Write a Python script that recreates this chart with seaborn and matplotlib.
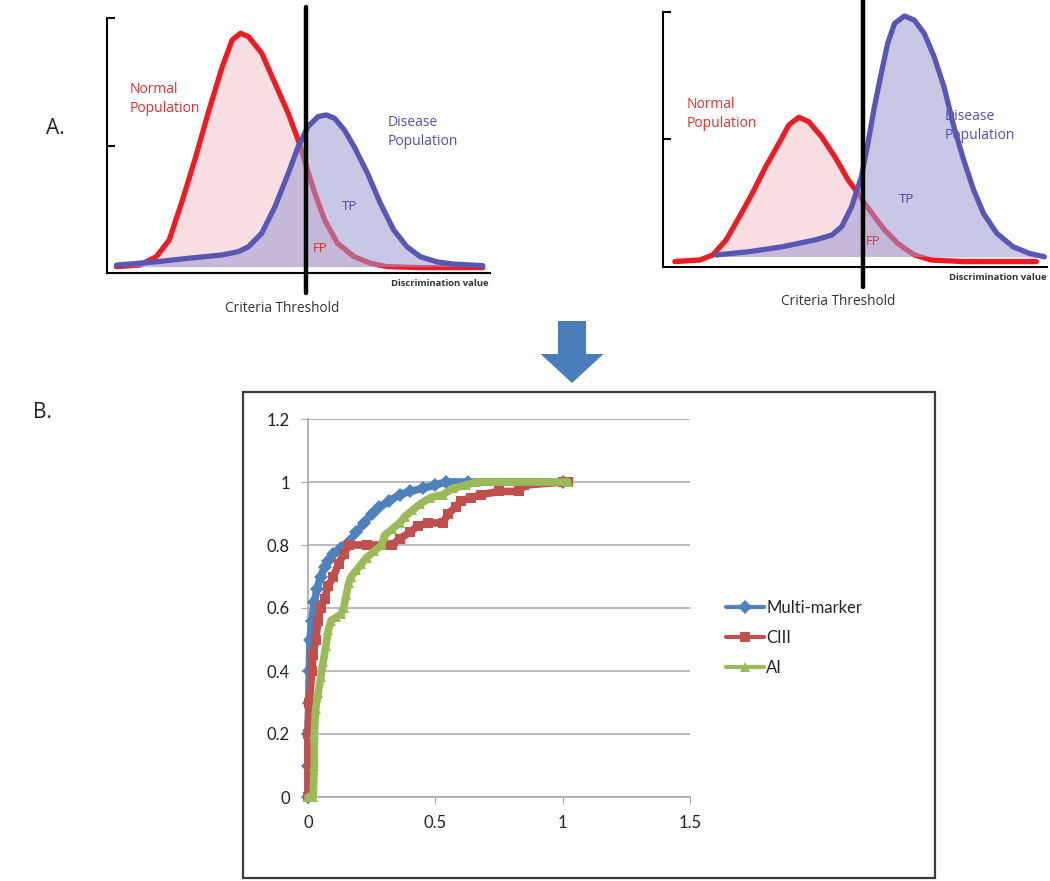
import matplotlib
matplotlib.use("Agg")
import matplotlib.pyplot as plt
import matplotlib.patches as mpatches
import seaborn as sns
import pandas as pd

# ---- panel A, left: curve shapes (x 0-100, y 0-100)
left_normal_x = [2.5, 8.6, 13.0, 16.4, 19.9, 23.4, 26.9, 30.4, 33.0, 35.2, 37.3, 40.8, 44.3,
                 47.8, 50.4, 52.6, 54.8, 57.4, 60.8, 65.2, 69.5, 73.9, 82.6, 99.1]
left_normal_y = [2.5, 3.1, 6.4, 12.9, 28.6, 45.6, 63.9, 80.9, 91.4, 94.0, 92.7, 86.2, 74.4,
                 62.6, 52.2, 41.7, 31.3, 20.8, 11.6, 6.4, 3.8, 2.5, 2.1, 2.1]
left_disease_x = [2.5, 13.0, 21.7, 30.4, 34.7, 37.3, 40.8, 44.3, 47.8, 50.4, 53.0, 55.6, 57.8,
                  60.0, 62.6, 65.2, 68.7, 72.1, 75.6, 79.1, 82.6, 86.9, 91.3, 99.1]
left_disease_y = [3.1, 4.4, 5.8, 7.1, 8.4, 10.3, 15.6, 26.0, 39.1, 49.5, 57.4, 61.3, 62.0,
                  60.7, 56.1, 49.5, 39.1, 27.3, 16.9, 10.3, 6.4, 4.4, 3.5, 2.9]

# ---- panel A, right
right_normal_x = [3.1, 9.6, 13.1, 16.6, 20.1, 23.5, 27.0, 30.5, 33.1, 35.7, 38.3, 41.7, 45.2,
                  48.7, 51.3, 53.0, 55.6, 58.3, 61.7, 66.1, 70.5, 79.1, 98.2]
right_normal_y = [2.0, 2.6, 4.6, 10.5, 19.6, 28.8, 39.2, 48.4, 55.6, 58.6, 56.9, 51.0, 43.1,
                  34.0, 28.8, 24.9, 19.6, 14.4, 9.2, 4.6, 2.6, 2.0, 2.0]
right_disease_x = [14.0, 22.7, 31.3, 40.0, 44.4, 47.0, 49.6, 52.2, 53.9, 55.6, 57.4, 59.1, 60.9,
                   63.5, 66.1, 68.7, 71.3, 73.9, 76.5, 79.1, 81.7, 84.3, 87.8, 92.1, 96.4, 100.3]
right_disease_y = [4.6, 5.9, 7.8, 10.5, 12.4, 15.7, 23.5, 35.3, 48.4, 62.7, 75.8, 87.6, 95.4,
                   98.3, 96.7, 91.5, 82.4, 70.6, 54.9, 41.8, 30.1, 20.9, 13.1, 7.8, 5.2, 3.9]

threshold_left = 52.5
threshold_right = 52.6

# ---- panel B: ROC curves (false positive rate, true positive rate)
multi_fpr = [0, 0, 0, 0.003, 0.005, 0.008, 0.015, 0.025, 0.035, 0.05, 0.065, 0.08, 0.1, 0.13,
             0.16, 0.19, 0.22, 0.25, 0.28, 0.32, 0.36, 0.4, 0.45, 0.5, 0.54, 0.63, 1.0]
multi_tpr = [0, 0.1, 0.2, 0.3, 0.4, 0.5, 0.56, 0.62, 0.66, 0.7, 0.73, 0.75, 0.77, 0.79,
             0.81, 0.84, 0.87, 0.9, 0.92, 0.94, 0.96, 0.97, 0.98, 0.99, 1.0, 1.0, 1.0]
ciii_fpr = [0, 0, 0.005, 0.015, 0.02, 0.03, 0.04, 0.05, 0.065, 0.08, 0.1, 0.12, 0.14, 0.16,
            0.23, 0.31, 0.33, 0.36, 0.4, 0.43, 0.47, 0.53, 0.55, 0.58, 0.6, 0.64, 0.68, 0.75,
            0.83, 0.85, 1.0, 1.02]
ciii_tpr = [0, 0.2, 0.3, 0.4, 0.45, 0.5, 0.56, 0.6, 0.63, 0.67, 0.7, 0.74, 0.77, 0.8,
            0.8, 0.8, 0.8, 0.82, 0.84, 0.86, 0.87, 0.87, 0.9, 0.92, 0.94, 0.95, 0.96, 0.97,
            0.97, 0.99, 1.0, 1.0]
ai_fpr = [0, 0.02, 0.025, 0.025, 0.03, 0.04, 0.05, 0.06, 0.07, 0.08, 0.09, 0.11, 0.13, 0.14,
          0.15, 0.16, 0.17, 0.19, 0.21, 0.23, 0.26, 0.29, 0.3, 0.33, 0.36, 0.38, 0.41, 0.44,
          0.48, 0.53, 0.57, 0.62, 0.66, 1.02]
ai_tpr = [0, 0, 0.1, 0.2, 0.28, 0.33, 0.38, 0.43, 0.48, 0.53, 0.56, 0.57, 0.58, 0.6,
          0.64, 0.68, 0.7, 0.72, 0.74, 0.76, 0.78, 0.8, 0.83, 0.85, 0.87, 0.89, 0.91, 0.93,
          0.95, 0.96, 0.98, 0.99, 1.0, 1.0]

series_names = ["Multi-marker", "CIII", "AI"]
y_ticks = [0, 0.2, 0.4, 0.6, 0.8, 1, 1.2]
y_ticklabels = ["0", "0.2", "0.4", "0.6", "0.8", "1", "1.2"]
x_ticks = [0, 0.5, 1, 1.5]
x_ticklabels = ["0", "0.5", "1", "1.5"]

sns.set_style("white")
plt.rcParams['font.family'] = ['Open Sans', 'DejaVu Sans']

RED = "#ec1c24"
BLUE = "#5858b4"
PINK_FILL = "#f8dde3"
LAV_FILL = "#9c9ad2"

fig = plt.figure(figsize=(10.5, 8.81), dpi=100)


def density_panel(rect, nx, ny, dx, dy, thr, thr_top, thr_bot, base, txt):
    ax = fig.add_axes(rect)
    ax.fill_between(nx, ny, base, color=PINK_FILL, lw=0, zorder=1)
    sns.lineplot(x=nx, y=ny, sort=False, color=RED, lw=3.8, ax=ax, zorder=2,
                 solid_joinstyle="round", solid_capstyle="round")
    ax.fill_between(dx, dy, base, color=LAV_FILL, alpha=0.55, lw=0, zorder=3)
    sns.lineplot(x=dx, y=dy, sort=False, color=BLUE, lw=3.8, ax=ax, zorder=4,
                 solid_joinstyle="round", solid_capstyle="round")
    ax.plot([thr, thr], [thr_bot, thr_top], color="black", lw=3.2, clip_on=False, zorder=5)
    ax.set_xlim(0, 101)
    ax.set_ylim(0, 100)
    for s in ["top", "right"]:
        ax.spines[s].set_visible(False)
    for s in ["left", "bottom"]:
        ax.spines[s].set_color("black")
        ax.spines[s].set_linewidth(1.5)
    ax.set_xticks([])
    ax.set_yticks([50, 100])
    ax.set_yticklabels([])
    ax.tick_params(axis="y", direction="in", length=6, width=1.5, left=True, color="black")
    ax.set_xlabel("")
    ax.set_ylabel("")
    ax.text(txt["normal"][0], txt["normal"][1], "Normal\nPopulation", color="#e03030",
            fontsize=10, va="center", ha="left", linespacing=1.3)
    ax.text(txt["disease"][0], txt["disease"][1], "Disease\nPopulation", color="#5050a8",
            fontsize=10, va="center", ha="left", linespacing=1.3)
    ax.text(txt["tp"][0], txt["tp"][1], "TP", color="#4848a0", fontsize=9.5,
            ha="center", va="center")
    ax.text(txt["fp"][0], txt["fp"][1], "FP", color="#e03030", fontsize=9.5,
            ha="center", va="center")
    ax.text(txt["disc"][0], txt["disc"][1], "Discrimination value", color="#333333",
            fontsize=6.8, fontweight="bold", ha="right", va="center", clip_on=False)
    ax.text(txt["crit"][0], txt["crit"][1], "Criteria Threshold", color="#333333",
            fontsize=9.8, ha="center", va="center", clip_on=False)
    return ax


density_panel([107 / 1050, 1 - 273 / 881, 383 / 1050, 255 / 881],
              left_normal_x, left_normal_y, left_disease_x, left_disease_y,
              threshold_left, 104.3, -7.8, 2.5,
              {"normal": (6.0, 68.2), "disease": (73.9, 55.3), "tp": (64.0, 25.9),
               "fp": (56.1, 9.8), "disc": (100.5, -4.2), "crit": (46.2, -14.1)})

density_panel([663 / 1050, 1 - 266.7 / 881, 384 / 1050, 255 / 881],
              right_normal_x, right_normal_y, right_disease_x, right_disease_y,
              threshold_right, 104.6, -8.0, 4.0,
              {"normal": (6.25, 59.9), "disease": (74.2, 55.2), "tp": (64.1, 26.2),
               "fp": (55.2, 9.7), "disc": (100.8, -4.4), "crit": (46.1, -13.8)})

# panel letters
fig.text(55 / 1050, 1 - 128 / 881, "A.", fontsize=15, ha="center", va="center", color="#222222")
fig.text(42 / 1050, 1 - 412 / 881, "B.", fontsize=15, ha="center", va="center", color="#222222")

# down arrow
arrow = mpatches.FancyArrow(572 / 1050, 1 - 321 / 881, 0, -(383 - 321) / 881,
                            width=28 / 1050, head_width=63 / 1050, head_length=29 / 881,
                            length_includes_head=True, color="#4a7ebb", lw=0,
                            transform=fig.transFigure)
fig.add_artist(arrow)

# chart box for panel B
box = mpatches.Rectangle((243 / 1050, 1 - 878 / 881), 692 / 1050, 486 / 881,
                         transform=fig.transFigure, fill=False, edgecolor="#3a3a3a", lw=1.6)
fig.add_artist(box)

# ROC chart
roc = pd.concat([
    pd.DataFrame({"fpr": multi_fpr, "tpr": multi_tpr, "series": series_names[0]}),
    pd.DataFrame({"fpr": ciii_fpr, "tpr": ciii_tpr, "series": series_names[1]}),
    pd.DataFrame({"fpr": ai_fpr, "tpr": ai_tpr, "series": series_names[2]}),
], ignore_index=True)

colors = {"Multi-marker": "#4f81bd", "CIII": "#c0504d", "AI": "#9bbb59"}
marks = {"Multi-marker": "D", "CIII": "s", "AI": "^"}

ax3 = fig.add_axes([308 / 1050, 1 - 797 / 881, 382 / 1050, 378 / 881])
for name in series_names:
    d = roc[roc["series"] == name]
    sns.lineplot(data=d, x="fpr", y="tpr", sort=False, estimator=None, color=colors[name],
                 lw=5.5, marker=marks[name], markersize=7.5, markeredgewidth=0,
                 label=name, ax=ax3, clip_on=False, zorder=3)

ax3.set_xlim(0, 1.5)
ax3.set_ylim(0, 1.2)
ax3.set_xticks(x_ticks)
ax3.set_xticklabels(x_ticklabels)
ax3.set_yticks(y_ticks)
ax3.set_yticklabels(y_ticklabels)
ax3.yaxis.grid(True, color="#bdbdbd", lw=1.5)
ax3.xaxis.grid(False)
ax3.set_axisbelow(True)
for s in ["top", "right"]:
    ax3.spines[s].set_visible(False)
for s in ["left", "bottom"]:
    ax3.spines[s].set_color("#a8a8a8")
    ax3.spines[s].set_linewidth(1.2)
ax3.tick_params(axis="x", direction="out", length=5, color="#a8a8a8", bottom=True,
                labelsize=12, labelcolor="#222222", pad=8)
ax3.tick_params(axis="y", direction="out", length=5, color="#a8a8a8", left=True,
                labelsize=12, labelcolor="#222222", pad=8)
for lab in ax3.get_xticklabels() + ax3.get_yticklabels():
    lab.set_family(["Lato", "DejaVu Sans"])
ax3.set_xlabel("")
ax3.set_ylabel("")

leg = ax3.legend(loc="center left", bbox_to_anchor=(711 / 1050, 1 - 638 / 881),
                 bbox_transform=fig.transFigure, frameon=False,
                 handlelength=2.3, handletextpad=0.1, labelspacing=0.85,
                 prop={"family": ["Lato", "DejaVu Sans"], "size": 12})
for line in leg.get_lines():
    line.set_linewidth(3)

fig.savefig("out.png", dpi=100)
